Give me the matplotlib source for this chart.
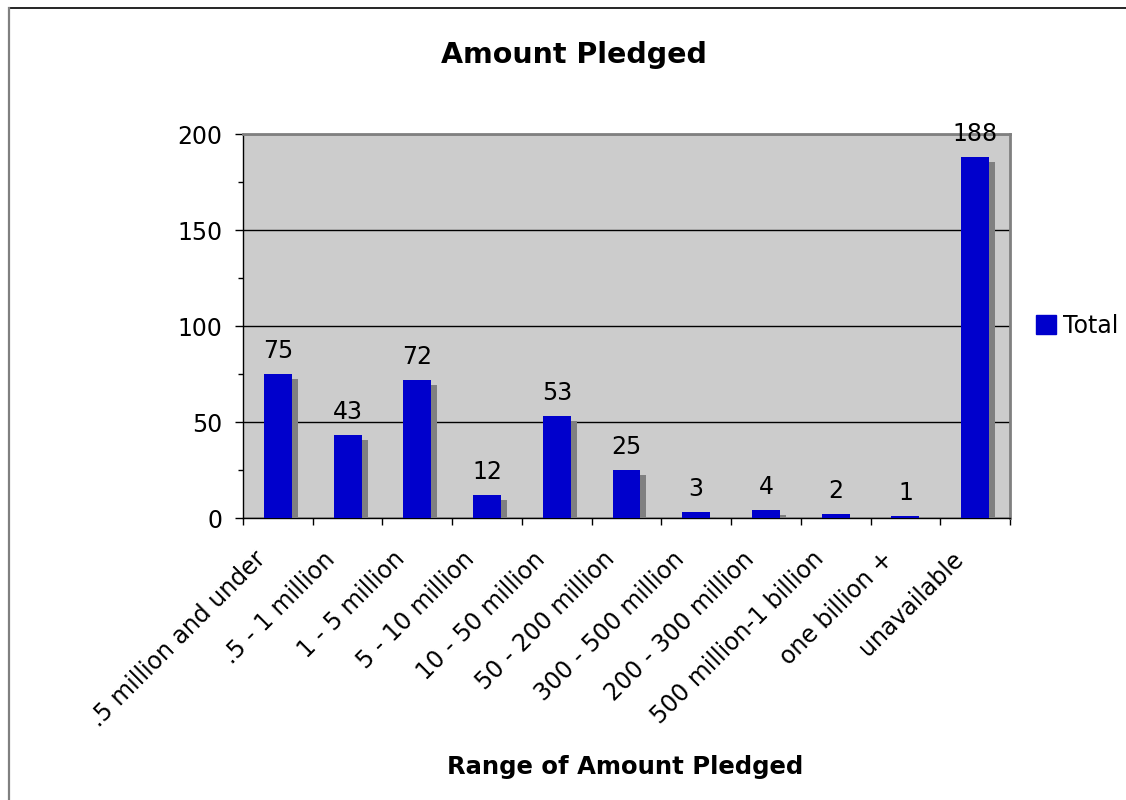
import matplotlib
matplotlib.use("Agg")
import matplotlib.pyplot as plt
import matplotlib.patheffects as pe
import matplotlib.transforms as mtransforms
from matplotlib.lines import Line2D
import numpy as np

categories = ['.5 million and under', '.5 - 1 million', '1 - 5 million',
              '5 - 10 million', '10 - 50 million', '50 - 200 million',
              '300 - 500 million', '200 - 300 million', '500 million-1 billion',
              'one billion +', 'unavailable']
totals = [75, 43, 72, 12, 53, 25, 3, 4, 2, 1, 188]
y_ticks = [0, 50, 100, 150, 200]

plt.rcParams['font.family'] = ['DejaVu Sans']

fig = plt.figure(figsize=(11.26, 8.0), dpi=100)
fig.patch.set_facecolor('white')
ax = fig.add_axes([243 / 1126, 1 - 518 / 800, (1010 - 243) / 1126, (518 - 134) / 800])
ax.set_facecolor('#CCCCCC')

x = np.arange(len(categories))
bars = ax.bar(x, totals, width=0.4, color='#0000CC', zorder=3, label='Total')
for b in bars:
    b.set_path_effects([
        pe.SimplePatchShadow(offset=(4.3, -3.6), shadow_rgbFace='#808080', alpha=1.0),
        pe.Normal(),
    ])

ax.bar_label(bars, labels=[str(v) for v in totals], padding=8, fontsize=17,
             color='black', clip_on=False)

ax.set_xlim(-0.5, len(categories) - 0.5)
ax.set_ylim(0, 200)

# y axis: majors every 50, minors every 25
ax.set_yticks(y_ticks)
ax.set_yticks(np.arange(0, 201, 25), minor=True)
ax.tick_params(axis='y', which='major', direction='out', length=6, width=1,
               labelsize=17, pad=9, colors='black')
ax.tick_params(axis='y', which='minor', direction='out', length=3.6, width=1)
ax.yaxis.grid(True, which='major', color='black', linewidth=1)
ax.set_axisbelow(True)

# x axis: ticks at category boundaries, labels at centers
ax.set_xticks(np.arange(-0.5, len(categories), 1.0))
ax.set_xticklabels([])
ax.set_xticks(x, categories, minor=True)
ax.tick_params(axis='x', which='major', direction='out', length=5, width=1)
ax.tick_params(axis='x', which='minor', length=0, labelsize=17, pad=27)
shift = mtransforms.ScaledTranslation(-16 / 100, 0, fig.dpi_scale_trans)
for lab in ax.get_xticklabels(minor=True):
    lab.set_rotation(45)
    lab.set_rotation_mode('anchor')
    lab.set_ha('right')
    lab.set_va('center')
    lab.set_transform(lab.get_transform() + shift)

for side in ('left', 'bottom'):
    ax.spines[side].set_color('black')
    ax.spines[side].set_linewidth(1)
for side in ('top', 'right'):
    ax.spines[side].set_color('#808080')
    ax.spines[side].set_linewidth(2)

fig.text(574 / 1126, 1 - 55 / 800, 'Amount Pledged', ha='center', va='center',
         fontsize=20.5, fontweight='bold')
fig.text(625 / 1126, 1 - 767 / 800, 'Range of Amount Pledged', ha='center',
         va='center', fontsize=17.5, fontweight='bold')

fig.legend(handles=[plt.Rectangle((0, 0), 1, 1, color='#0000CC')], labels=['Total'],
           loc='center left', bbox_to_anchor=(1036 / 1126, 1 - 326 / 800),
           frameon=False, fontsize=17, handlelength=0.85, handleheight=0.85,
           handletextpad=0.3, borderpad=0, borderaxespad=0)

# chart area border
fig.add_artist(Line2D([9 / 1126, 1.0], [1 - 8 / 800, 1 - 8 / 800],
                      transform=fig.transFigure, color='black', linewidth=1.2))
fig.add_artist(Line2D([9 / 1126, 9 / 1126], [0.0, 1 - 8 / 800],
                      transform=fig.transFigure, color='#808080', linewidth=1.6))

fig.savefig('out.png', dpi=100)
